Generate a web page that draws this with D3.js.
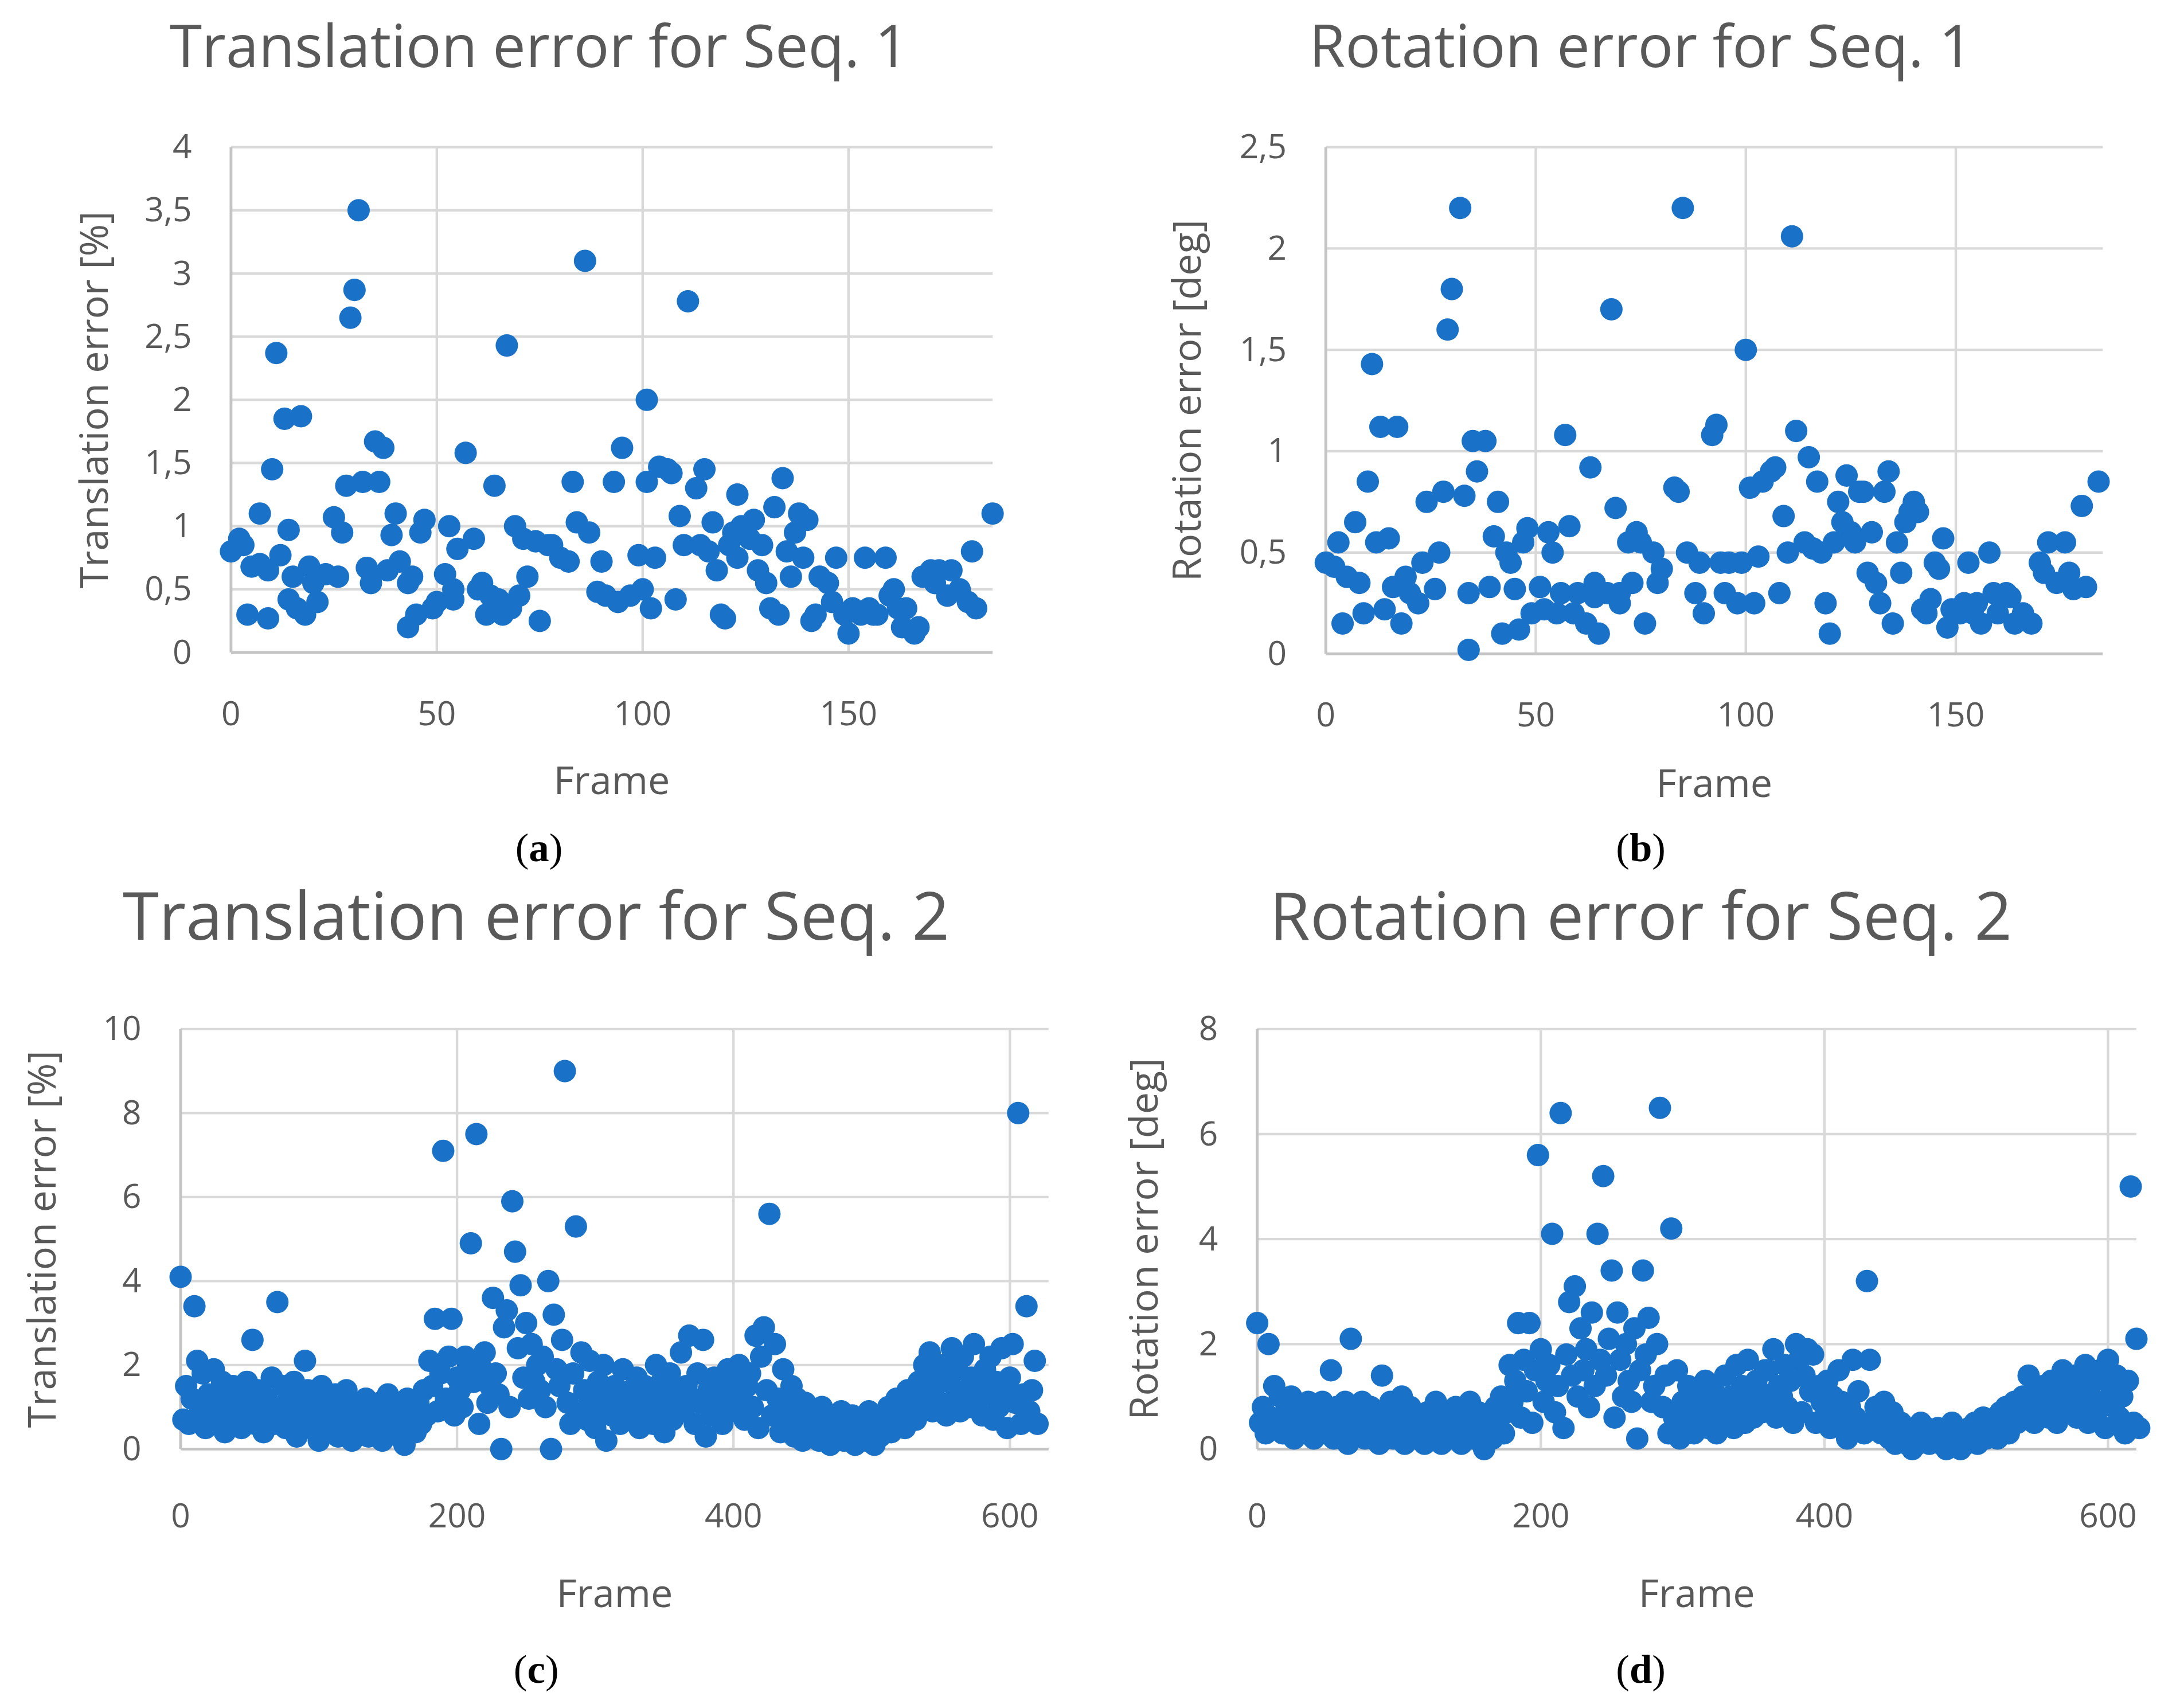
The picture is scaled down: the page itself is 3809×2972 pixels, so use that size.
<!DOCTYPE html>
<html>
<head>
<meta charset="utf-8">
<script src="https://cdn.jsdelivr.net/npm/d3@7"></script>
<style>
  html, body { margin: 0; padding: 0; background: #fff; }
</style>
</head>
<body>
<svg id="chart"></svg>
<script>
// Seq. 1 translation error: [frame, %]
const seq1Trans = [
  [0,0.8],[2,0.9],[3,0.85],[4,0.3],[5,0.68],[7,0.7],[7,1.1],[9,0.65],[9,0.27],[10,1.45],
  [11,2.37],[12,0.77],[13,1.85],[14,0.42],[14,0.97],[15,0.6],[16,0.35],[17,1.87],[18,0.3],[19,0.68],
  [20,0.55],[21,0.4],[23,0.62],[25,1.07],[26,0.6],[27,0.95],[28,1.32],[29,2.65],[30,2.87],[31,3.5],
  [32,1.35],[33,0.67],[34,0.55],[35,1.67],[36,1.35],[37,1.62],[38,0.65],[39,0.93],[40,1.1],[41,0.72],
  [43,0.2],[43,0.55],[44,0.6],[45,0.3],[46,0.95],[47,1.05],[49,0.35],[50,0.4],[52,0.62],[53,1.0],
  [54,0.5],[54,0.42],[55,0.82],[57,1.58],[59,0.9],[60,0.5],[61,0.55],[62,0.3],[63,0.45],[64,1.32],
  [65,0.42],[66,0.3],[67,2.43],[68,0.35],[69,1.0],[70,0.45],[71,0.9],[72,0.6],[74,0.88],[75,0.25],
  [77,0.85],[78,0.85],[80,0.75],[82,0.72],[83,1.35],[84,1.03],[86,3.1],[87,0.95],[89,0.48],[90,0.72],
  [91,0.45],[93,1.35],[94,0.4],[95,1.62],[97,0.45],[99,0.77],[100,0.5],[101,2.0],[101,1.35],[102,0.35],
  [103,0.75],[104,1.47],[106,1.45],[107,1.42],[108,0.42],[109,1.08],[110,0.85],[111,2.78],[113,1.3],[114,0.85],
  [115,1.45],[116,0.8],[117,1.03],[118,0.65],[119,0.3],[120,0.27],[121,0.85],[122,0.95],[123,0.75],[123,1.25],
  [124,1.0],[126,0.9],[127,1.05],[128,0.65],[129,0.85],[130,0.55],[131,0.35],[132,1.15],[133,0.3],[134,1.38],
  [135,0.8],[136,0.6],[137,0.95],[138,1.1],[139,0.75],[140,1.05],[141,0.25],[142,0.3],[143,0.6],[145,0.55],
  [146,0.4],[147,0.75],[149,0.3],[150,0.15],[151,0.35],[153,0.3],[154,0.75],[155,0.35],[156,0.3],[157,0.3],
  [159,0.75],[160,0.45],[161,0.5],[162,0.35],[163,0.2],[164,0.35],[166,0.15],[167,0.2],[168,0.6],[170,0.65],
  [171,0.55],[172,0.65],[174,0.45],[175,0.65],[177,0.5],[179,0.4],[180,0.8],[181,0.35],[185,1.1]
];

// Seq. 1 rotation error: [frame, deg]
const seq1Rot = [
  [0,0.45],[2,0.43],[3,0.55],[4,0.15],[5,0.38],[7,0.65],[8,0.35],[9,0.2],[10,0.85],[11,1.43],
  [12,0.55],[13,1.12],[14,0.22],[15,0.57],[16,0.33],[17,1.12],[18,0.15],[19,0.38],[20,0.3],[22,0.25],
  [23,0.45],[24,0.75],[26,0.32],[27,0.5],[28,0.8],[29,1.6],[30,1.8],[32,2.2],[33,0.78],[34,0.3],
  [34,0.02],[35,1.05],[36,0.9],[38,1.05],[39,0.33],[40,0.58],[41,0.75],[42,0.1],[43,0.5],[44,0.45],
  [45,0.32],[46,0.12],[47,0.55],[48,0.62],[49,0.2],[51,0.33],[52,0.22],[53,0.6],[54,0.5],[55,0.2],
  [56,0.3],[57,1.08],[58,0.63],[59,0.2],[60,0.3],[62,0.15],[63,0.92],[64,0.35],[64,0.28],[65,0.1],
  [67,0.3],[68,1.7],[69,0.72],[70,0.25],[70,0.3],[72,0.55],[73,0.35],[74,0.6],[75,0.55],[76,0.15],
  [78,0.5],[79,0.35],[80,0.42],[83,0.82],[84,0.8],[85,2.2],[86,0.5],[88,0.3],[89,0.45],[90,0.2],
  [92,1.08],[93,1.13],[94,0.45],[95,0.3],[96,0.45],[98,0.25],[99,0.45],[100,1.5],[101,0.82],[102,0.25],
  [103,0.48],[104,0.85],[106,0.9],[107,0.92],[108,0.3],[109,0.68],[110,0.5],[111,2.06],[112,1.1],[114,0.55],
  [115,0.97],[116,0.52],[117,0.85],[118,0.5],[119,0.25],[120,0.1],[121,0.55],[122,0.75],[123,0.65],[124,0.88],
  [125,0.6],[126,0.55],[127,0.8],[128,0.8],[129,0.4],[130,0.6],[131,0.35],[132,0.25],[133,0.8],[134,0.9],
  [135,0.15],[136,0.55],[137,0.4],[138,0.65],[139,0.7],[140,0.75],[141,0.7],[142,0.22],[143,0.2],[144,0.27],
  [145,0.45],[146,0.42],[147,0.57],[148,0.13],[149,0.22],[151,0.2],[152,0.25],[153,0.45],[154,0.2],[155,0.25],
  [156,0.15],[158,0.5],[159,0.3],[160,0.2],[162,0.3],[163,0.28],[164,0.15],[166,0.2],[168,0.15],[170,0.45],
  [171,0.4],[172,0.55],[174,0.35],[176,0.55],[177,0.4],[178,0.32],[180,0.73],[181,0.33],[184,0.85]
];

// Seq. 2 values, one per even frame (0, 2, 4, ...)
const seq2Trans = [
  4.1,0.7,1.5,0.6,1.2,3.4,2.1,0.9,1.8,0.5,
  1.3,0.8,1.9,0.6,1.1,1.6,0.4,1.2,0.9,1.5,
  0.7,1.3,0.5,1.0,1.6,0.8,2.6,0.6,1.4,1.1,
  0.4,1.2,0.9,1.7,0.6,3.5,1.0,1.5,0.5,1.3,
  0.8,1.6,0.3,1.1,0.7,2.1,1.4,0.5,0.9,1.2,
  0.2,1.5,0.8,0.4,1.1,0.6,1.3,0.3,0.9,0.5,
  1.4,0.7,0.2,1.0,0.6,0.8,0.4,1.2,0.3,0.7,
  0.9,0.5,1.1,0.2,0.8,1.3,0.6,0.4,1.0,0.3,
  0.7,0.1,1.2,0.5,0.9,0.4,1.1,0.6,1.4,0.8,
  2.1,1.5,3.1,0.9,1.8,7.1,1.2,2.2,3.1,0.8,
  1.7,1.4,1.0,2.2,2.0,4.9,1.6,7.5,0.6,1.9,
  2.3,1.1,1.5,3.6,1.8,1.3,0.0,2.9,3.3,1.0,
  5.9,4.7,2.4,3.9,1.7,3.0,1.2,2.5,1.6,2.0,
  1.4,2.2,1.0,4.0,0.0,3.2,1.9,1.5,2.6,9.0,
  1.1,0.6,1.8,5.3,0.9,2.3,1.4,0.7,2.1,1.2,
  0.5,1.6,0.9,2.0,0.2,1.3,0.8,1.5,1.0,0.6,
  1.9,1.2,0.7,1.4,0.9,1.7,0.5,1.1,1.5,0.8,
  1.3,0.6,2.0,1.0,1.6,0.4,1.2,1.8,0.7,1.4,
  1.0,2.3,0.9,1.5,2.7,1.2,0.6,1.8,1.1,2.6,
  0.3,1.4,0.8,1.7,1.0,1.5,0.6,1.2,1.9,0.9,
  1.6,1.1,2.0,1.3,0.7,1.5,1.8,1.0,2.7,0.5,
  2.2,2.9,1.4,5.6,0.8,2.5,1.2,0.4,1.9,1.0,
  0.6,1.5,0.3,1.2,0.8,0.2,1.1,0.5,0.9,0.3,
  0.7,0.2,1.0,0.4,0.6,0.1,0.8,0.3,0.5,0.9,
  0.2,0.6,0.4,0.8,0.1,0.5,0.3,0.7,0.2,0.9,
  0.4,0.1,0.6,0.3,0.8,0.5,1.0,0.4,0.7,1.2,
  0.6,1.0,0.5,1.4,0.8,1.2,0.7,1.6,1.0,2.0,
  1.3,2.3,0.9,1.5,1.8,1.1,2.0,0.8,1.6,2.4,
  1.2,1.9,0.9,2.2,1.4,1.0,1.7,2.5,1.1,1.5,
  0.8,1.9,1.3,2.2,0.7,1.6,1.0,2.4,1.4,0.5,
  1.7,2.5,1.1,8.0,0.6,1.3,3.4,0.9,1.4,2.1,
  0.6
];

const seq2Rot = [
  2.4,0.5,0.8,0.3,2.0,0.6,1.2,0.4,1.0,0.3,
  0.7,0.5,1.0,0.2,0.8,0.4,0.6,0.3,0.9,0.5,
  0.2,0.7,0.4,0.9,0.3,0.6,1.5,0.2,0.8,0.4,
  0.5,0.9,0.1,2.1,0.7,0.3,0.6,0.9,0.2,0.5,
  0.8,0.3,0.5,0.1,1.4,0.7,0.4,0.9,0.2,0.6,
  0.3,1.0,0.1,0.5,0.8,0.2,0.6,0.3,0.4,0.1,
  0.7,0.2,0.5,0.9,0.3,0.1,0.6,0.4,0.2,0.5,
  0.8,0.3,0.1,0.6,0.4,0.9,0.2,0.5,0.7,0.3,
  0.0,0.6,0.4,0.2,0.8,0.5,1.0,0.3,0.7,1.6,
  0.9,1.3,2.4,0.6,1.7,1.1,2.4,0.5,1.5,5.6,
  1.9,0.9,1.3,1.6,4.1,0.7,1.2,6.4,0.4,1.8,
  2.8,1.4,3.1,1.0,2.3,1.5,1.9,0.8,2.6,1.2,
  4.1,1.7,5.2,1.4,2.1,3.4,0.6,2.6,1.7,1.0,
  2.0,1.3,0.9,2.3,0.2,1.5,3.4,1.8,2.5,0.9,
  1.2,2.0,6.5,0.8,1.4,0.3,4.2,0.6,1.5,0.2,
  0.9,0.4,1.2,0.7,0.3,1.0,0.5,0.8,1.3,0.4,
  0.6,1.1,0.3,0.9,0.5,1.4,0.7,1.0,0.4,1.6,
  0.8,1.2,0.5,1.7,0.9,0.6,1.3,1.1,0.7,1.5,
  1.5,0.9,1.9,0.6,1.2,1.0,1.6,0.8,1.3,0.5,
  2.0,1.7,0.7,1.4,1.9,1.1,1.8,0.5,1.2,0.9,
  0.6,1.3,0.4,1.0,0.7,1.5,0.9,0.5,0.2,0.8,
  1.7,0.6,1.1,0.5,0.3,3.2,1.7,0.4,0.8,0.6,
  0.3,0.9,0.4,0.2,0.7,0.1,0.3,0.5,0.4,0.1,
  0.2,0.0,0.3,0.1,0.5,0.2,0.4,0.1,0.3,0.2,
  0.4,0.1,0.3,0.0,0.2,0.5,0.1,0.3,0.0,0.2,
  0.1,0.4,0.2,0.5,0.1,0.3,0.6,0.2,0.4,0.3,
  0.5,0.2,0.7,0.4,0.8,0.3,0.6,0.9,0.5,0.7,
  1.0,0.6,1.4,0.8,0.5,1.1,0.7,1.2,0.9,0.6,
  1.3,0.8,0.5,1.0,1.5,0.7,1.2,0.9,1.4,0.6,
  1.1,0.8,1.6,0.5,1.0,1.3,0.7,1.5,0.9,0.4,
  1.7,1.2,0.8,1.4,0.6,1.0,0.3,1.3,5.0,0.5,
  2.1,0.4
];

const seq1XTicks = [0, 50, 100, 150];
const seq2XTicks = [0, 200, 400, 600];
const transTicks1 = [0, 0.5, 1, 1.5, 2, 2.5, 3, 3.5, 4];
const rotTicks1 = [0, 0.5, 1, 1.5, 2, 2.5];
const transTicks2 = [0, 2, 4, 6, 8, 10];
const rotTicks2 = [0, 2, 4, 6, 8];

const BLUE = '#1A72C8';
const GREY_TEXT = '#595959';
const W = 1560, H = 1217;

const svg = d3.select('#chart')
  .attr('width', 3809).attr('height', 2972)
  .attr('viewBox', `0 0 ${W} ${H}`);

const fmt = d => String(d).replace('.', ',');

const panels = [
  { title: 'Translation error for Seq. 1', tx: 385, ty: 48, tsize: 42,
    ylabel: 'Translation error [%]', ylx: 67,
    pts: seq1Trans, xd: [0, 185], xr: [165, 709], yd: [0, 4], yr: [466, 105],
    xt: seq1XTicks, yt: transTicks1, xlab: 518, frameY: 567, cap: 'a', capY: 615 },
  { title: 'Rotation error for Seq. 1', tx: 1172, ty: 48, tsize: 42,
    ylabel: 'Rotation error [deg]', ylx: 848,
    pts: seq1Rot, xd: [0, 185], xr: [947, 1502], yd: [0, 2.5], yr: [467, 105],
    xt: seq1XTicks, yt: rotTicks1, xlab: 519, frameY: 569, cap: 'b', capY: 615 },
  { title: 'Translation error for Seq. 2', tx: 383, ty: 671, tsize: 47,
    ylabel: 'Translation error [%]', ylx: 30,
    pts: seq2Trans.map((v, i) => [i * 2, v]), xd: [0, 628], xr: [129, 749], yd: [0, 10], yr: [1035, 735],
    xt: seq2XTicks, yt: transTicks2, xlab: 1091, frameY: 1148, cap: 'c', capY: 1202 },
  { title: 'Rotation error for Seq. 2', tx: 1172, ty: 671, tsize: 47,
    ylabel: 'Rotation error [deg]', ylx: 817,
    pts: seq2Rot.map((v, i) => [i * 2, v]), xd: [0, 620], xr: [898, 1526], yd: [0, 8], yr: [1035, 735],
    xt: seq2XTicks, yt: rotTicks2, xlab: 1091, frameY: 1148, cap: 'd', capY: 1202 }
];

panels.forEach(p => {
  const x = d3.scaleLinear().domain(p.xd).range(p.xr);
  const y = d3.scaleLinear().domain(p.yd).range(p.yr);
  const g = svg.append('g');
  const [x0, x1] = p.xr, [y0, y1] = p.yr;

  // gridlines
  g.selectAll('line.hg').data(p.yt.slice(1)).enter().append('line')
    .attr('x1', x0).attr('x2', x1).attr('y1', d => y(d)).attr('y2', d => y(d))
    .attr('stroke', '#d9d9d9').attr('stroke-width', 1.8);
  g.selectAll('line.vg').data(p.xt.slice(1)).enter().append('line')
    .attr('x1', d => x(d)).attr('x2', d => x(d)).attr('y1', y0).attr('y2', y1)
    .attr('stroke', '#d9d9d9').attr('stroke-width', 1.8);
  // axis lines
  g.append('line').attr('x1', x0).attr('x2', x1).attr('y1', y0).attr('y2', y0)
    .attr('stroke', '#c4c4c4').attr('stroke-width', 2);
  g.append('line').attr('x1', x0).attr('x2', x0).attr('y1', y0).attr('y2', y1)
    .attr('stroke', '#c4c4c4').attr('stroke-width', 2);

  // tick labels
  g.selectAll('text.xt').data(p.xt).enter().append('text')
    .attr('x', d => x(d)).attr('y', p.xlab)
    .attr('text-anchor', 'middle').attr('font-family', 'Open Sans').attr('font-size', 24)
    .attr('fill', GREY_TEXT).text(d => d);
  g.selectAll('text.yt').data(p.yt).enter().append('text')
    .attr('x', x0 - 28).attr('y', d => y(d) + 8)
    .attr('text-anchor', 'end').attr('font-family', 'Open Sans').attr('font-size', 24)
    .attr('fill', GREY_TEXT).text(fmt);

  // points
  g.selectAll('circle').data(p.pts).enter().append('circle')
    .attr('cx', d => x(d[0])).attr('cy', d => y(d[1])).attr('r', 8)
    .attr('fill', BLUE);

  // titles
  g.append('text').attr('x', p.tx).attr('y', p.ty).attr('text-anchor', 'middle')
    .attr('font-family', 'Open Sans').attr('font-size', p.tsize).attr('fill', GREY_TEXT)
    .text(p.title);
  g.append('text').attr('x', (x0 + x1) / 2).attr('y', p.frameY).attr('text-anchor', 'middle')
    .attr('font-family', 'Open Sans').attr('font-size', 28).attr('fill', GREY_TEXT)
    .text('Frame');
  g.append('text')
    .attr('transform', `translate(${p.ylx},${(y0 + y1) / 2}) rotate(-90)`)
    .attr('text-anchor', 'middle').attr('dy', '0.35em')
    .attr('font-family', 'Open Sans').attr('font-size', 28).attr('fill', GREY_TEXT)
    .text(p.ylabel);

  // caption (a), (b) ...
  const cap = g.append('text').attr('x', p.tx).attr('y', p.capY).attr('text-anchor', 'middle')
    .attr('font-family', 'Liberation Serif').attr('font-size', 29).attr('fill', '#000');
  cap.append('tspan').text('(');
  cap.append('tspan').attr('font-weight', 'bold').text(p.cap);
  cap.append('tspan').text(')');
});
</script>
</body>
</html>
